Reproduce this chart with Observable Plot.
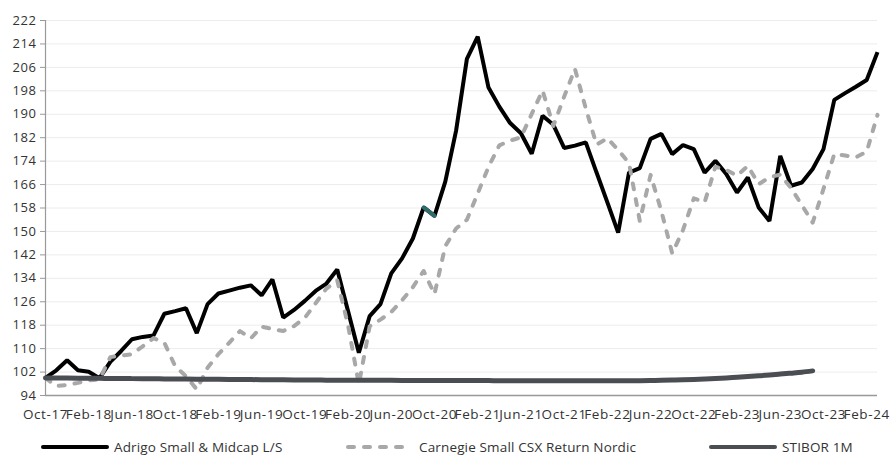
<!DOCTYPE html>
<html><head><meta charset="utf-8">
<script src="https://cdn.jsdelivr.net/npm/d3@7"></script>
<script src="https://cdn.jsdelivr.net/npm/@observablehq/plot@0.6"></script>
<style>
html,body{margin:0;padding:0;background:#fff;}
body{width:891px;height:460px;position:relative;overflow:hidden;font-family:"Open Sans",sans-serif;}
#chart svg text{letter-spacing:0.6px;}
#legend{position:absolute;left:0;top:436px;width:891px;height:22px;font-size:13.5px;letter-spacing:0.15px;color:#333;}
.item{position:absolute;top:0;height:22px;display:flex;align-items:center;white-space:nowrap;}
.item svg{margin-right:4px;}
</style></head><body>
<div id="chart"></div>
<div id="legend"></div>
<script>
const months = [
"Oct-17","Nov-17","Dec-17",
"Jan-18","Feb-18","Mar-18","Apr-18","May-18","Jun-18","Jul-18","Aug-18","Sep-18","Oct-18","Nov-18","Dec-18",
"Jan-19","Feb-19","Mar-19","Apr-19","May-19","Jun-19","Jul-19","Aug-19","Sep-19","Oct-19","Nov-19","Dec-19",
"Jan-20","Feb-20","Mar-20","Apr-20","May-20","Jun-20","Jul-20","Aug-20","Sep-20","Oct-20","Nov-20","Dec-20",
"Jan-21","Feb-21","Mar-21","Apr-21","May-21","Jun-21","Jul-21","Aug-21","Sep-21","Oct-21","Nov-21","Dec-21",
"Jan-22","Feb-22","Mar-22","Apr-22","May-22","Jun-22","Jul-22","Aug-22","Sep-22","Oct-22","Nov-22","Dec-22",
"Jan-23","Feb-23","Mar-23","Apr-23","May-23","Jun-23","Jul-23","Aug-23","Sep-23","Oct-23","Nov-23","Dec-23",
"Jan-24","Feb-24","Mar-24"];

const adrigo = [
100,102.6,106.0,102.6,102.1,99.9,105.5,109.2,113.2,114.0,114.5,121.9,122.8,123.8,115.3,
125.2,128.8,129.8,130.8,131.6,128.2,133.6,120.6,123.2,126.3,129.7,132.2,
137.0,122.8,108.6,121.1,125.2,135.7,140.8,147.6,158.2,155.3,167.0,184.4,
208.9,216.5,199.1,192.6,187.0,183.5,176.5,189.5,186.4,178.5,179.3,180.4,
170.1,159.9,149.6,170.1,171.6,181.6,183.3,176.4,179.5,178.1,170.1,174.1,
169.6,163.3,168.4,158.2,153.6,175.8,165.6,166.7,171.3,178.1,194.9,197.2,
199.4,201.7,211.2];

const carnegie = [
100,97.2,97.6,98.3,99.2,99.5,107.1,107.6,108.1,110.8,113.6,112.0,104.0,100.6,96.1,
103.5,108.1,112.0,116.0,113.5,117.5,116.7,116.0,117.7,120.5,125.5,130.5,
133.3,118.0,97.8,117.6,119.9,122.5,126.5,131.0,136.5,128.6,145.0,151.0,
154.0,163.0,172.0,179.4,181.0,182.1,190.1,198.1,186.0,196.0,205.5,192.0,
179.6,181.8,177.8,173.4,153.6,169.3,156.9,142.5,150.5,161.3,159.9,172.1,
171.0,169.0,172.4,166.1,168.5,169.4,164.8,159.0,153.0,164.5,176.4,175.9,
175.3,177.2,189.8];

const stibor = [
100.0,99.97,99.94,99.91,99.88,99.85,99.82,99.79,99.76,99.73,99.70,99.67,
99.64,99.61,99.58,99.55,99.52,99.49,99.46,99.43,99.40,99.37,99.34,99.31,
99.28,99.26,99.24,99.22,99.21,99.20,99.19,99.18,99.17,99.16,99.15,99.14,
99.13,99.12,99.11,99.10,99.09,99.08,99.07,99.06,99.05,99.04,99.03,99.02,
99.01,99.00,99.00,99.00,99.00,99.00,99.02,99.05,99.10,99.17,99.25,99.35,
99.47,99.62,99.80,100.00,100.22,100.46,100.72,101.00,101.30,101.62,101.96,102.40];

const yTicks = [94,102,110,118,126,134,142,150,158,166,174,182,190,198,206,214,222];
const xTicks = ["Oct-17","Feb-18","Jun-18","Oct-18","Feb-19","Jun-19","Oct-19","Feb-20","Jun-20","Oct-20",
"Feb-21","Jun-21","Oct-21","Feb-22","Jun-22","Oct-22","Feb-23","Jun-23","Oct-23","Feb-24"];

const seriesNames = ["Adrigo Small & Midcap L/S","Carnegie Small CSX Return Nordic","STIBOR 1M"];
const seriesColors = ["#000000","#a8a8a8","#4a4e53"];
const highlightColor = "#2f6d6d";

const rows = months.map((m,i)=>({m, a: adrigo[i], c: carnegie[i], s: i < stibor.length ? stibor[i] : NaN}));

const chart = Plot.plot({
  width: 891, height: 428,
  marginTop: 20, marginBottom: 33, marginLeft: 45, marginRight: 14,
  style: {fontFamily: "'Open Sans', sans-serif", fontSize: "13px", background: "#fff", color: "#333"},
  x: {type: "point", domain: months, padding: 0},
  y: {domain: [94, 222]},
  marks: [
    Plot.gridY(yTicks, {stroke: "#ececec", strokeOpacity: 1, strokeWidth: 1}),
    Plot.axisY(yTicks, {tickSize: 5, tickPadding: 4, stroke: "#999", fill: "#333", label: null}),
    Plot.axisX(xTicks, {tickSize: 0, tickPadding: 14, fill: "#333", label: null, fontSize: 13.5}),
    Plot.ruleX([months[0]], {stroke: "#999", strokeWidth: 1.2}),
    Plot.ruleY([94], {stroke: "#999", strokeWidth: 1.5}),
    Plot.line(rows, {x: "m", y: "a", stroke: seriesColors[0], strokeWidth: 4, strokeLinejoin: "miter", strokeLinecap: "butt"}),
    Plot.line(rows.slice(35, 37), {x: "m", y: "a", stroke: highlightColor, strokeWidth: 4}),
    Plot.line(rows, {x: "m", y: "c", stroke: seriesColors[1], strokeWidth: 4, strokeDasharray: "6,10", strokeLinecap: "round", strokeLinejoin: "round"}),
    Plot.line(rows.filter(d => !isNaN(d.s)), {x: "m", y: "s", stroke: seriesColors[2], strokeWidth: 5, strokeLinecap: "round", curve: "monotone-x"})
  ]
});
document.getElementById("chart").append(chart);

const legendX = [40, 345, 708];
const legend = document.getElementById("legend");
seriesNames.forEach((name, k) => {
  const div = document.createElement("div");
  div.className = "item";
  div.style.left = legendX[k] + "px";
  const dash = k === 1 ? 'stroke-dasharray="6,10" stroke-linecap="round"' : 'stroke-linecap="round"';
  div.innerHTML = `<svg width="70" height="10"><line x1="3" x2="67" y1="5" y2="5" stroke="${seriesColors[k]}" stroke-width="4" ${dash}/></svg><span>${name}</span>`;
  legend.append(div);
});
</script>
</body></html>
